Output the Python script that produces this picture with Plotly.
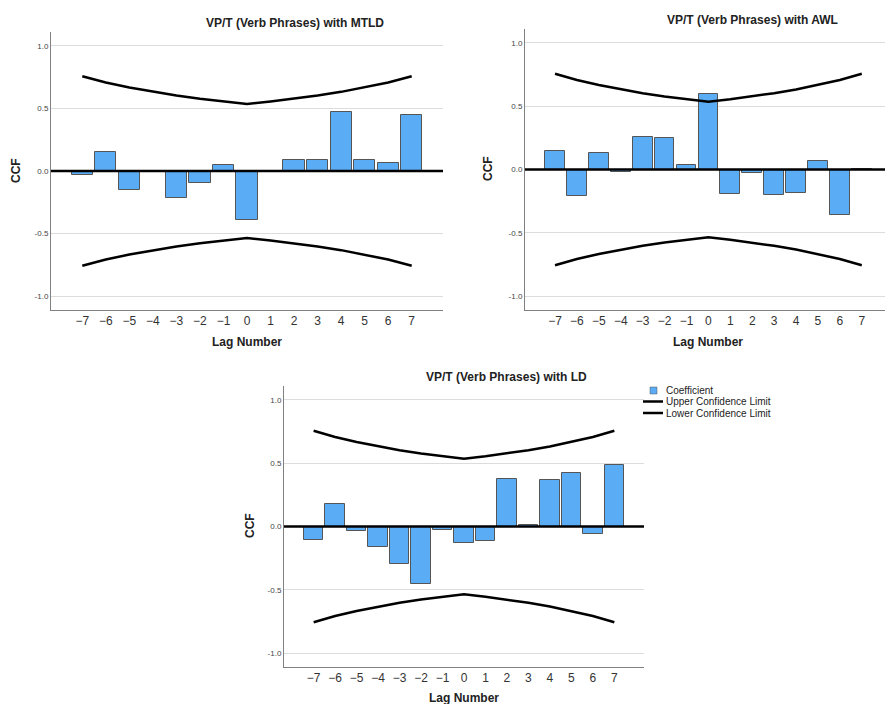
import plotly.graph_objects as go

lags = [-7, -6, -5, -4, -3, -2, -1, 0, 1, 2, 3, 4, 5, 6, 7]
lag_labels = ["\u22127", "\u22126", "\u22125", "\u22124", "\u22123", "\u22122", "\u22121",
              "0", "1", "2", "3", "4", "5", "6", "7"]

ccf_mtld = [-0.034, 0.150, -0.148, -0.006, -0.215, -0.093, 0.045, -0.395,
            0.003, 0.085, 0.085, 0.474, 0.085, 0.066, 0.450]
ccf_awl = [0.148, -0.210, 0.132, -0.016, 0.253, 0.248, 0.037, 0.600,
           -0.192, -0.026, -0.205, -0.182, 0.066, -0.358, 0.002]
ccf_ld = [-0.108, 0.179, -0.032, -0.158, -0.295, -0.453, -0.026, -0.129,
          -0.113, 0.376, 0.013, 0.371, 0.424, -0.058, 0.484]

upper_limit = [0.756, 0.707, 0.667, 0.632, 0.603, 0.577, 0.555, 0.535,
               0.555, 0.577, 0.603, 0.632, 0.667, 0.707, 0.756]
lower_limit = [-0.756, -0.707, -0.667, -0.632, -0.603, -0.577, -0.555, -0.535,
               -0.555, -0.577, -0.603, -0.632, -0.667, -0.707, -0.756]

titles = ["VP/T (Verb Phrases) with MTLD", "VP/T (Verb Phrases) with AWL",
          "VP/T (Verb Phrases) with LD"]
legend_names = ["Coefficient", "Upper Confidence Limit", "Lower Confidence Limit"]
y_tickvals = [-1.0, -0.5, 0.0, 0.5, 1.0]
y_ticktext = ["-1.0", "-0.5", "0.0", "0.5", "1.0"]

W, H = 885, 704
FONT = "Liberation Sans"
BAR = "#5aacf5"
BAR_EDGE = "#555555"

fig = go.Figure()
series = [ccf_mtld, ccf_awl, ccf_ld]
axes = [("x", "y"), ("x2", "y2"), ("x3", "y3")]
for i, (vals, (xa, ya)) in enumerate(zip(series, axes)):
    fig.add_trace(go.Bar(x=lags, y=vals, width=0.9, marker=dict(color=BAR, line=dict(color=BAR_EDGE, width=1)),
                         name=legend_names[0], showlegend=False, xaxis=xa, yaxis=ya))
    fig.add_trace(go.Scatter(x=lags, y=upper_limit, mode="lines", line=dict(color="black", width=2.5),
                             name=legend_names[1], showlegend=False, xaxis=xa, yaxis=ya))
    fig.add_trace(go.Scatter(x=lags, y=lower_limit, mode="lines", line=dict(color="black", width=2.5),
                             name=legend_names[2], showlegend=False, xaxis=xa, yaxis=ya))

# pixel geometry: (left, right, top, bottom, xmin, xmax)
geo = [(51, 443, 32, 310, -8.33, 8.33),
       (525, 885, 29, 310, -8.37, 8.06),
       (284, 644, 386, 667, -8.38, 8.38)]

def xd(p):
    return p / W

def yd(p):
    return 1 - p / H

for i, (l, r, t, b, x0, x1) in enumerate(geo):
    sfx = "" if i == 0 else str(i + 1)
    xa = dict(domain=[xd(l), xd(r)], range=[x0, x1], tickvals=lags, ticktext=lag_labels,
              showline=True, linecolor="#808080", linewidth=1, showgrid=False, zeroline=False,
              ticks="", tickfont=dict(family=FONT, size=12, color="#333333"),
              anchor="y" + sfx, fixedrange=True)
    ya = dict(domain=[yd(b), yd(t)], range=[-1.11, 1.11], tickvals=y_tickvals, ticktext=y_ticktext,
              showline=True, linecolor="#808080", linewidth=1, showgrid=True, gridcolor="#dcdcdc",
              gridwidth=1, zeroline=False, ticks="", tickfont=dict(family=FONT, size=8, color="#444444"),
              anchor="x" + sfx, fixedrange=True)
    fig.update_layout(**{"xaxis" + sfx: xa, "yaxis" + sfx: ya})
    fig.add_shape(type="line", xref="x" + sfx + " domain", yref="y" + sfx, x0=0, x1=1, y0=0, y1=0,
                  line=dict(color="black", width=2.5), layer="above")

ann = []
title_pos = [(295, 23), (752, 20), (507, 377)]
xlab_pos = [(247, 342), (708, 342), (464, 698)]
ylab_pos = [(16, 171), (488, 169), (250, 526)]
for i in range(3):
    ann.append(dict(text="<b>%s</b>" % titles[i], x=xd(title_pos[i][0]), y=yd(title_pos[i][1]),
                    xref="paper", yref="paper", showarrow=False, xanchor="center", yanchor="middle",
                    font=dict(family=FONT, size=12, color="#222222")))
    ann.append(dict(text="<b>Lag Number</b>", x=xd(xlab_pos[i][0]), y=yd(xlab_pos[i][1]),
                    xref="paper", yref="paper", showarrow=False, xanchor="center", yanchor="middle",
                    font=dict(family=FONT, size=12, color="#222222")))
    ann.append(dict(text="<b>CCF</b>", x=xd(ylab_pos[i][0]), y=yd(ylab_pos[i][1]), textangle=-90,
                    xref="paper", yref="paper", showarrow=False, xanchor="center", yanchor="middle",
                    font=dict(family=FONT, size=12, color="#222222")))

# compact legend (key symbols + labels)
leg_y = [390, 401.5, 413]
fig.add_shape(type="rect", xref="paper", yref="paper", x0=xd(650), x1=xd(657), y0=yd(394), y1=yd(387),
              fillcolor=BAR, line=dict(color=BAR_EDGE, width=0.5))
for k in (1, 2):
    fig.add_shape(type="line", xref="paper", yref="paper", x0=xd(643), x1=xd(663), y0=yd(leg_y[k]),
                  y1=yd(leg_y[k]), line=dict(color="black", width=2.5))
for k in range(3):
    ann.append(dict(text=legend_names[k], x=xd(664), y=yd(leg_y[k]), xref="paper", yref="paper",
                    showarrow=False, xanchor="left", yanchor="middle",
                    font=dict(family=FONT, size=10, color="#222222")))

fig.update_layout(
    width=W, height=H, margin=dict(l=0, r=0, t=0, b=0),
    paper_bgcolor="white", plot_bgcolor="white",
    bargap=0, annotations=ann, showlegend=False,
)

fig.write_html("out.html")
